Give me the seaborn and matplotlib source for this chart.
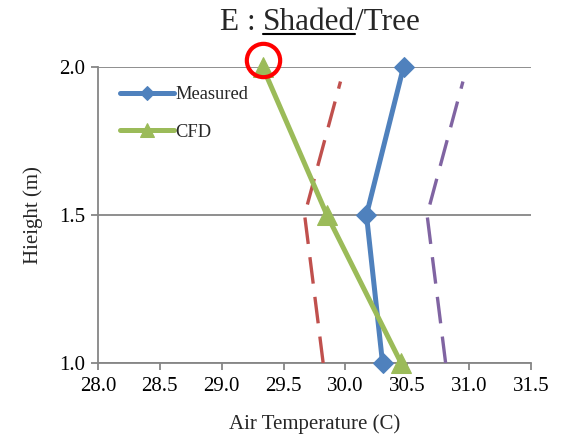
import numpy as np
import pandas as pd
import matplotlib
matplotlib.use('Agg')
import matplotlib.pyplot as plt
import matplotlib.transforms as mtransforms
import seaborn as sns

# data
heights = [1.0, 1.5, 2.0]
measured = [30.30, 30.17, 30.47]
cfd = [30.45, 29.85, 29.33]

band_heights = [1.0, 1.5, 1.95]
lower_band = [29.82, 29.67, 29.96]
upper_band = [30.81, 30.66, 30.95]

xticks = [28.0, 28.5, 29.0, 29.5, 30.0, 30.5, 31.0, 31.5]
yticks = [1.0, 1.5, 2.0]

sns.set_style('white')
plt.rcParams['font.family'] = ['Liberation Serif', 'DejaVu Serif']

blue = '#4F81BD'
green = '#9BBB59'
red = '#C0504D'
purple = '#8064A2'
grey = '#868686'

fig = plt.figure(figsize=(5.61, 4.36), dpi=100)
ax = fig.add_axes([0.1747, 0.1674, 0.9465 - 0.1747, 0.847 - 0.1674])

df_m = pd.DataFrame({'temp': measured, 'h': heights})
df_c = pd.DataFrame({'temp': cfd, 'h': heights})
df_lo = pd.DataFrame({'temp': lower_band, 'h': band_heights})
df_hi = pd.DataFrame({'temp': upper_band, 'h': band_heights})

for d, c in [(df_lo, red), (df_hi, purple)]:
    sns.lineplot(data=d, x='temp', y='h', sort=False, estimator=None, ax=ax,
                 color=c, linewidth=2.4, dashes=False, zorder=3)
    ax.lines[-1].set_dashes([8, 4])

sns.lineplot(data=df_m, x='temp', y='h', sort=False, estimator=None, ax=ax,
             color=blue, linewidth=3.6, marker='D', markersize=10,
             markeredgecolor=blue, label='Measured', zorder=4, clip_on=False)
sns.lineplot(data=df_c, x='temp', y='h', sort=False, estimator=None, ax=ax,
             color=green, linewidth=3.6, marker='^', markersize=14,
             markeredgecolor=green, label='CFD', zorder=5, clip_on=False)

# red circle around the top CFD point
off = mtransforms.ScaledTranslation(0, 5 / 72, fig.dpi_scale_trans)
ax.plot([cfd[-1]], [heights[-1]], marker='o', markersize=24, markerfacecolor='none',
        markeredgecolor='#FF0000', markeredgewidth=3, clip_on=False, zorder=6,
        transform=ax.transData + off)

ax.set_xlim(28.0, 31.5)
ax.set_ylim(1.0, 2.0)
ax.set_xticks(xticks)
ax.set_yticks(yticks)
ax.set_xticklabels([f'{v:.1f}' for v in xticks])
ax.set_yticklabels([f'{v:.1f}' for v in yticks])
ax.yaxis.grid(True, color=grey, linewidth=1.3)
ax.xaxis.grid(False)
for s in ['top', 'right']:
    ax.spines[s].set_visible(False)
for s in ['left', 'bottom']:
    ax.spines[s].set_color(grey)
    ax.spines[s].set_linewidth(1.3)
ax.tick_params(axis='both', direction='out', length=5, width=1.3, color=grey,
               labelsize=15, labelcolor='black', pad=4)
ax.tick_params(axis='x', bottom=True, pad=5)
ax.tick_params(axis='y', left=True)

ax.set_xlabel('Air Temperature (C)', fontsize=15, labelpad=13)
ax.set_ylabel('Hieight (m)', fontsize=15, labelpad=12)

leg = ax.legend(loc='upper left', bbox_to_anchor=(0.03, 0.965), frameon=False,
                fontsize=13.3, handlelength=2.9, labelspacing=1.1,
                markerscale=0.7, handletextpad=0.1, borderpad=0)

# title with underlined word
fig.canvas.draw()
r = fig.canvas.get_renderer()
parts = ['E : ', 'Shaded', '/Tree']
texts = [fig.text(0, 0, p, fontsize=22.5) for p in parts]
widths = [t.get_window_extent(r).width for t in texts]
total = sum(widths)
W, H = fig.get_size_inches() * fig.dpi
x = 320 - total / 2
base_y = H - 30
for t, w in zip(texts, widths):
    t.set_position((x / W, base_y / H))
    t.set_va('baseline')
    if t.get_text() == 'Shaded':
        fig.add_artist(plt.Line2D([x / W, (x + w) / W], [(base_y - 4) / H] * 2,
                                  color='black', linewidth=1.5))
    x += w

fig.savefig('out.png', dpi=100)
